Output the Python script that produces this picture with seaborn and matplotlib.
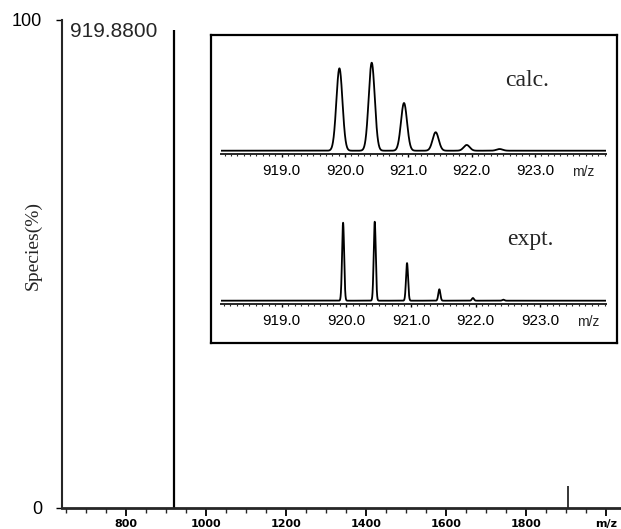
import numpy as np
import pandas as pd
import matplotlib
matplotlib.use("Agg")
import matplotlib.pyplot as plt
from matplotlib.ticker import MultipleLocator, FixedLocator, FixedFormatter
import seaborn as sns

# ---------------- data ----------------
# main (stick) spectrum
main_mz = [919.88, 1905.0]
main_int = [98.0, 4.6]
main_label = "919.8800"
main_xticks = [800, 1000, 1200, 1400, 1600, 1800, 2000]
main_xticklabels = ["800", "1000", "1200", "1400", "1600", "1800", "m/z"]

# inset: calculated isotope pattern (relative %)
calc_mz = [919.91, 920.42, 920.93, 921.43, 921.92, 922.44]
calc_int = [93.6, 100.0, 54.2, 21.0, 6.5, 1.9]
# inset: experimental isotope pattern (relative %)
expt_mz = [919.95, 920.44, 920.94, 921.44, 921.96, 922.43]
expt_int = [98.7, 100.0, 47.6, 14.4, 3.4, 1.3]
inset_ticks = [919.0, 920.0, 921.0, 922.0, 923.0]

# ---------------- style ----------------
sns.set_theme(style="ticks")
plt.rcParams["font.family"] = ["Liberation Sans", "DejaVu Sans"]
plt.rcParams["axes.facecolor"] = "white"
plt.rcParams["figure.facecolor"] = "white"

W, H = 621, 529
fig = plt.figure(figsize=(W / 100, H / 100), dpi=100)

def fx(px):
    return px / W

def fy(py):
    return 1 - py / H

# ---------------- main axes ----------------
ax = fig.add_axes([fx(61.7), fy(508), fx(621 - 61.7), (508 - 20) / H])
ax.set_xlim(640, 2038)
ax.set_ylim(0, 100)
ax.vlines(main_mz, 0, main_int, colors="black", linewidth=[1.6, 1.1])
sns.despine(ax=ax, top=True, right=True)
ax.spines["bottom"].set_linewidth(2.0)
ax.spines["left"].set_linewidth(1.5)
ax.xaxis.set_major_locator(FixedLocator(main_xticks))
ax.xaxis.set_major_formatter(FixedFormatter(main_xticklabels))
ax.xaxis.set_minor_locator(MultipleLocator(50))
ax.tick_params(axis="x", which="major", length=6, width=1.3, direction="out",
               labelsize=8, pad=2, colors="black")
ax.tick_params(axis="x", which="minor", length=3.5, width=1.0, direction="out")
for lab in ax.get_xticklabels():
    lab.set_fontweight("bold")
    lab.set_family("DejaVu Sans")
ax.set_yticks([0, 100])
ax.set_yticklabels(["0", "100"])
ax.tick_params(axis="y", length=4, width=1.0, labelsize=13, pad=10, colors="black")
ax.set_xlabel("")
ax.set_ylabel("")
ax.annotate(main_label, xy=(main_mz[0], main_int[0]), xytext=(-11.5, -1.5),
            textcoords="offset points", ha="right", va="center", fontsize=15)

fig.text(fx(33), fy(246), "Species(%)", rotation=90, ha="center", va="center",
         fontsize=14, family="Liberation Serif")

# ---------------- inset frame ----------------
frame = fig.add_axes([fx(210.7), fy(343), fx(406), 308 / H])
frame.set_xticks([])
frame.set_yticks([])
frame.set_facecolor("white")
for s in frame.spines.values():
    s.set_linewidth(1.6)
    s.set_color("black")

grid_calc = np.linspace(918.04, 924.12, 4000)
grid_expt = np.linspace(918.06, 924.02, 6000)

def profile(grid, centers, heights, sigma):
    y = np.zeros_like(grid)
    for c, h in zip(centers, heights):
        y += h * np.exp(-0.5 * ((grid - c) / sigma) ** 2)
    return y

df_calc = pd.DataFrame({"mz": grid_calc,
                        "I": profile(grid_calc, calc_mz, calc_int, 0.048)})
df_expt = pd.DataFrame({"mz": grid_expt,
                        "I": profile(grid_expt, expt_mz, expt_int, 0.016)})

def inset_axes(top_px, bottom_px, xlim, ylim, df, label_text, label_xy, mz_x):
    a = fig.add_axes([fx(221), fy(bottom_px), fx(385), (bottom_px - top_px) / H])
    a.patch.set_alpha(0)
    sns.lineplot(data=df, x="mz", y="I", ax=a, color="black", linewidth=1.3)
    a.set_xlim(*xlim)
    a.set_ylim(*ylim)
    for side in ["top", "right", "left"]:
        a.spines[side].set_visible(False)
    a.spines["bottom"].set_linewidth(1.4)
    a.set_yticks([])
    a.set_xticks(inset_ticks)
    a.set_xticklabels([f"{t:.1f}" for t in inset_ticks])
    a.xaxis.set_minor_locator(MultipleLocator(0.1))
    a.tick_params(axis="x", which="major", length=2.5, width=1.0, labelsize=11,
                  pad=5, colors="black")
    a.tick_params(axis="x", which="minor", length=1.5, width=0.8)
    a.set_xlabel("")
    a.set_ylabel("")
    a.text(mz_x, -0.18, "m/z", transform=a.get_xaxis_transform(), ha="center",
           va="center", fontsize=10)
    fig.text(fx(label_xy[0]), fy(label_xy[1]), label_text, ha="center", va="center",
             fontsize=17, family="Liberation Serif")
    return a

inset_axes(54, 154, (918.04, 924.12), (-3.75, 109.9), df_calc, "calc.", (526.7, 80), 923.76)
inset_axes(204, 304, (918.06, 924.02), (-4.2, 122.4), df_expt, "expt.", (530, 240), 923.74)

fig.savefig("out.png", dpi=100)
